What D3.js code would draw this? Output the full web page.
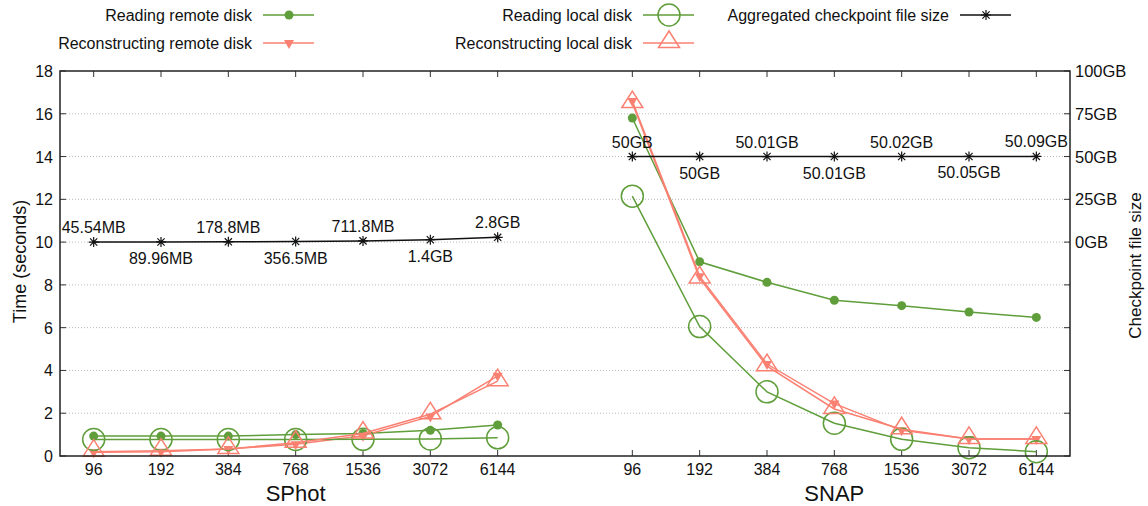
<!DOCTYPE html>
<html>
<head>
<meta charset="utf-8">
<script src="https://cdn.jsdelivr.net/npm/d3@7"></script>
<style>
  body { margin: 0; background: #fff; }
  text { font-family: "Liberation Sans", Arial, Helvetica, sans-serif; fill: #111; }
</style>
</head>
<body>
<svg width="1148" height="506"></svg>
<script>
// data
var apps = ["SPhot", "SNAP"];
var procs = ["96", "192", "384", "768", "1536", "3072", "6144"];

// time in seconds, one array per app
var readRemote = [[0.93, 0.93, 0.93, 1.0, 1.05, 1.2, 1.45], [15.8, 9.08, 8.12, 7.28, 7.03, 6.73, 6.48]];
var readLocal = [[0.77, 0.77, 0.77, 0.77, 0.78, 0.8, 0.85], [12.15, 6.05, 3.0, 1.53, 0.78, 0.39, 0.2]];
var reconRemote = [[0.17, 0.2, 0.33, 0.55, 0.95, 1.85, 3.75], [16.6, 8.4, 4.3, 2.45, 1.2, 0.8, 0.8]];
var reconLocal = [[0.2, 0.25, 0.33, 0.62, 1.05, 1.95, 3.5], [16.5, 8.3, 4.2, 2.2, 1.25, 0.8, 0.8]];

// aggregated checkpoint file size in GB (right axis)
var ckptSize = [[0.04554, 0.08996, 0.1788, 0.3565, 0.7118, 1.4, 2.8], [50, 50, 50.01, 50.01, 50.02, 50.05, 50.09]];
var ckptLabels = [["45.54MB", "89.96MB", "178.8MB", "356.5MB", "711.8MB", "1.4GB", "2.8GB"],
                  ["50GB", "50GB", "50.01GB", "50.01GB", "50.02GB", "50.05GB", "50.09GB"]];

var yTicks = [0, 2, 4, 6, 8, 10, 12, 14, 16, 18];
var y2Ticks = [0, 25, 50, 75, 100];

var green = "#5f9e3a", red = "#fa8072";

var svg = d3.select("svg");
var plotL = 60, plotR = 1070, plotT = 71, plotB = 456;

// position index: SPhot 0..6, gap, SNAP 8..14
var x = d3.scaleLinear().domain([-0.5, 14.5]).range([plotL, plotR]);
var y = d3.scaleLinear().domain([0, 18]).range([plotB, plotT]);
var y2 = d3.scaleLinear().domain([-125, 100]).range([plotB, plotT]);

function pos(a, i) { return a * 8 + i; }

// grid
svg.append("g").selectAll("line")
    .data(yTicks.filter(d => d > 0 && d < 18))
    .enter().append("line")
    .attr("x1", plotL).attr("x2", plotR)
    .attr("y1", d => y(d)).attr("y2", d => y(d))
    .attr("stroke", "#bbb").attr("stroke-width", 1)
    .attr("stroke-dasharray", "1,2");

// ticks (inward, mirrored)
var tickG = svg.append("g").attr("stroke", "#333").attr("stroke-width", 1);
yTicks.forEach(function (t) {
    tickG.append("line").attr("x1", plotL).attr("x2", plotL + 6).attr("y1", y(t)).attr("y2", y(t));
    tickG.append("line").attr("x1", plotR).attr("x2", plotR - 6).attr("y1", y(t)).attr("y2", y(t));
});
apps.forEach(function (app, a) {
    procs.forEach(function (p, i) {
        var xx = x(pos(a, i));
        tickG.append("line").attr("x1", xx).attr("x2", xx).attr("y1", plotB).attr("y2", plotB - 6);
        tickG.append("line").attr("x1", xx).attr("x2", xx).attr("y1", plotT).attr("y2", plotT + 6);
    });
});

// tick labels
svg.append("g").selectAll("text")
    .data(yTicks).enter().append("text")
    .attr("x", 53).attr("y", d => y(d) + 6)
    .attr("text-anchor", "end").style("font-size", "16px")
    .text(d => d);

svg.append("g").selectAll("text")
    .data(y2Ticks).enter().append("text")
    .attr("x", 1075).attr("y", d => y2(d) + 6)
    .style("font-size", "16.5px")
    .text(d => d + "GB");

apps.forEach(function (app, a) {
    svg.append("g").selectAll("text")
        .data(procs).enter().append("text")
        .attr("x", (d, i) => x(pos(a, i)))
        .attr("y", 475)
        .attr("text-anchor", "middle").style("font-size", "16px")
        .text(d => d);
    svg.append("text")
        .attr("x", x(pos(a, 3)))
        .attr("y", 501)
        .attr("text-anchor", "middle").style("font-size", "22px")
        .text(app);
});

svg.append("text")
    .attr("transform", "translate(26," + (y(9) - 2) + ") rotate(-90)")
    .attr("text-anchor", "middle").style("font-size", "18px")
    .text("Time (seconds)");
svg.append("text")
    .attr("transform", "translate(1141," + (y(9) + 2) + ") rotate(-90)")
    .attr("text-anchor", "middle").style("font-size", "17px")
    .text("Checkpoint file size");

// markers
function filledCircle(g) { g.append("circle").attr("r", 4.5).attr("fill", green); }
function openCircle(g) { g.append("circle").attr("r", 11).attr("fill", "none").attr("stroke", green).attr("stroke-width", 1.5); }
function downTri(g) { g.append("path").attr("d", "M-5,-3L5,-3L0,6Z").attr("fill", red); }
function openTri(g) { g.append("path").attr("d", "M0,-12L10.5,4.5L-10.5,4.5Z").attr("fill", "none").attr("stroke", red).attr("stroke-width", 1.5); }
function star(g) {
    g.append("path").attr("d", "M-5,0H5M0,-5V5M-3.6,-3.6L3.6,3.6M-3.6,3.6L3.6,-3.6")
        .attr("stroke", "#111").attr("stroke-width", 1.2).attr("fill", "none");
}

var series = [
    { name: "Reading remote disk", data: readRemote, color: green, marker: filledCircle, scale: y },
    { name: "Reconstructing remote disk", data: reconRemote, color: red, marker: downTri, scale: y },
    { name: "Reading local disk", data: readLocal, color: green, marker: openCircle, scale: y },
    { name: "Reconstructing local disk", data: reconLocal, color: red, marker: openTri, scale: y },
    { name: "Aggregated checkpoint file size", data: ckptSize, color: "#111", marker: star, scale: y2 }
];

var line = d3.line();

series.forEach(function (s) {
    var g = svg.append("g");
    s.data.forEach(function (vals, a) {
        var pts = vals.map((v, i) => [x(pos(a, i)), s.scale(v)]);
        g.append("path")
            .attr("d", line(pts))
            .attr("fill", "none")
            .attr("stroke", s.color)
            .attr("stroke-width", 1.5);
        pts.forEach(function (p) {
            var m = g.append("g").attr("transform", "translate(" + p[0] + "," + p[1] + ")");
            s.marker(m);
        });
    });
});

// checkpoint size labels, alternating above / below
apps.forEach(function (app, a) {
    svg.append("g").selectAll("text")
        .data(ckptLabels[a]).enter().append("text")
        .attr("x", (d, i) => x(pos(a, i)))
        .attr("y", (d, i) => y2(ckptSize[a][i]) + (i % 2 == 0 ? -9 : 22))
        .attr("text-anchor", "middle").style("font-size", "16px")
        .text(d => d);
});

// border
svg.append("rect")
    .attr("x", plotL).attr("y", plotT)
    .attr("width", plotR - plotL).attr("height", plotB - plotT)
    .attr("fill", "none").attr("stroke", "#222").attr("stroke-width", 1.5);

// legend
var legendPos = [[252, 15], [252, 43], [632, 15], [632, 43], [949, 15]];
series.forEach(function (s, k) {
    var lx = legendPos[k][0], ly = legendPos[k][1];
    var lg = svg.append("g");
    lg.append("text")
        .attr("x", lx).attr("y", ly + 6)
        .attr("text-anchor", "end").style("font-size", "16px")
        .text(s.name);
    lg.append("line")
        .attr("x1", lx + 11).attr("x2", lx + 62)
        .attr("y1", ly).attr("y2", ly)
        .attr("stroke", s.color).attr("stroke-width", 1.5);
    var m = lg.append("g").attr("transform", "translate(" + (lx + 37) + "," + ly + ")");
    s.marker(m);
});
</script>
</body>
</html>
